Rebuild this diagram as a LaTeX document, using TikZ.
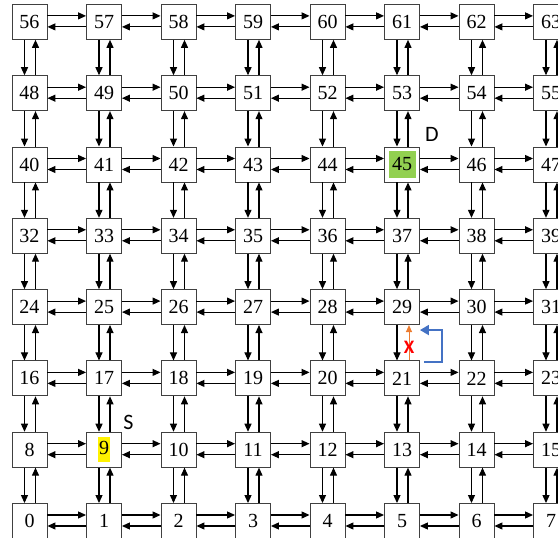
\documentclass[tikz,border=0pt]{standalone}
\usepackage{fontspec}
\setmainfont{Liberation Serif}
\newfontfamily\tagfont{Carlito}
\usepackage{xcolor}
\usetikzlibrary{arrows.meta,calc}

\definecolor{destgreen}{HTML}{92D050}
\definecolor{turnblue}{HTML}{4472C4}
\definecolor{blockorange}{HTML}{ED7D31}

\newcommand{\hlnum}[1]{{\setlength{\fboxsep}{0.8pt}\colorbox{yellow}{\strut#1}}}

\begin{document}
\begin{tikzpicture}[
  x=1pt,y=1pt,
  router/.style={draw=black!75,line width=0.9pt,minimum size=35pt,inner sep=0pt,
    font=\fontsize{20}{24}\selectfont},
  dest/.style={path picture={\fill[destgreen]
    ([shift={(4pt,4pt)}]path picture bounding box.south west) rectangle
    ([shift={(-4pt,-4pt)}]path picture bounding box.north east);}},
  r45/.style={dest},
  arr/.style={-{Triangle[length=8pt,width=7pt]},line width=1.1pt},
  tag/.style={font=\tagfont\fontsize{22}{26}\selectfont,inner sep=0pt},
  detour/.style={-{Triangle[length=9pt,width=10pt]},line width=1.8pt,draw=turnblue}
]
\clip (0,0) rectangle (558,538);
% routers, row 0 at the bottom
\foreach \i in {0,...,63}{
  \pgfmathtruncatemacro{\col}{mod(\i,8)}
  \pgfmathtruncatemacro{\row}{div(\i,8)}
  \node[router,r\i/.try] (n\i) at (29.5+74.5*\col, 17+71.3*\row)
    {\ifnum\i=9 \hlnum{\i}\else\i\fi};
}
% east / west links
\foreach \i in {0,...,63}{
  \pgfmathtruncatemacro{\col}{mod(\i,8)}
  \ifnum\col<7
    \pgfmathtruncatemacro{\j}{\i+1}
    \draw[arr] ([yshift=6pt]n\i.east) -- ([yshift=6pt]n\j.west);
    \draw[arr] ([yshift=-5pt]n\j.west) -- ([yshift=-5pt]n\i.east);
  \fi
}
% north / south links
\foreach \i in {0,...,55}{
  \pgfmathtruncatemacro{\j}{\i+8}
  \draw[arr] ([xshift=-5pt]n\j.south) -- ([xshift=-5pt]n\i.north);
  \ifnum\i=21\else
    \draw[arr] ([xshift=6pt]n\i.north) -- ([xshift=6pt]n\j.south);
  \fi
}
% blocked link and detour
\draw[-{Triangle[length=7pt,width=6pt]},line width=1pt,blockorange]
  ([xshift=7pt]n21.north) -- node[pos=0.38,tag,text=red,font=\tagfont\bfseries\fontsize{19}{22}\selectfont] (blk) {X}
  ([xshift=7pt]n29.south);
\draw[detour] ([shift={(4pt,-1.5pt)}]n21.north east)
  -| ([shift={(22pt,-5pt)}]n29.south east) -- ([yshift=-5pt]n29.south east);
% source and destination
\node[tag] (D) at ([shift={(12pt,12pt)}]n45.north east) {D};
\node[tag] (S) at ([shift={(6.5pt,9pt)}]n9.north east) {S};
\end{tikzpicture}
\end{document}
